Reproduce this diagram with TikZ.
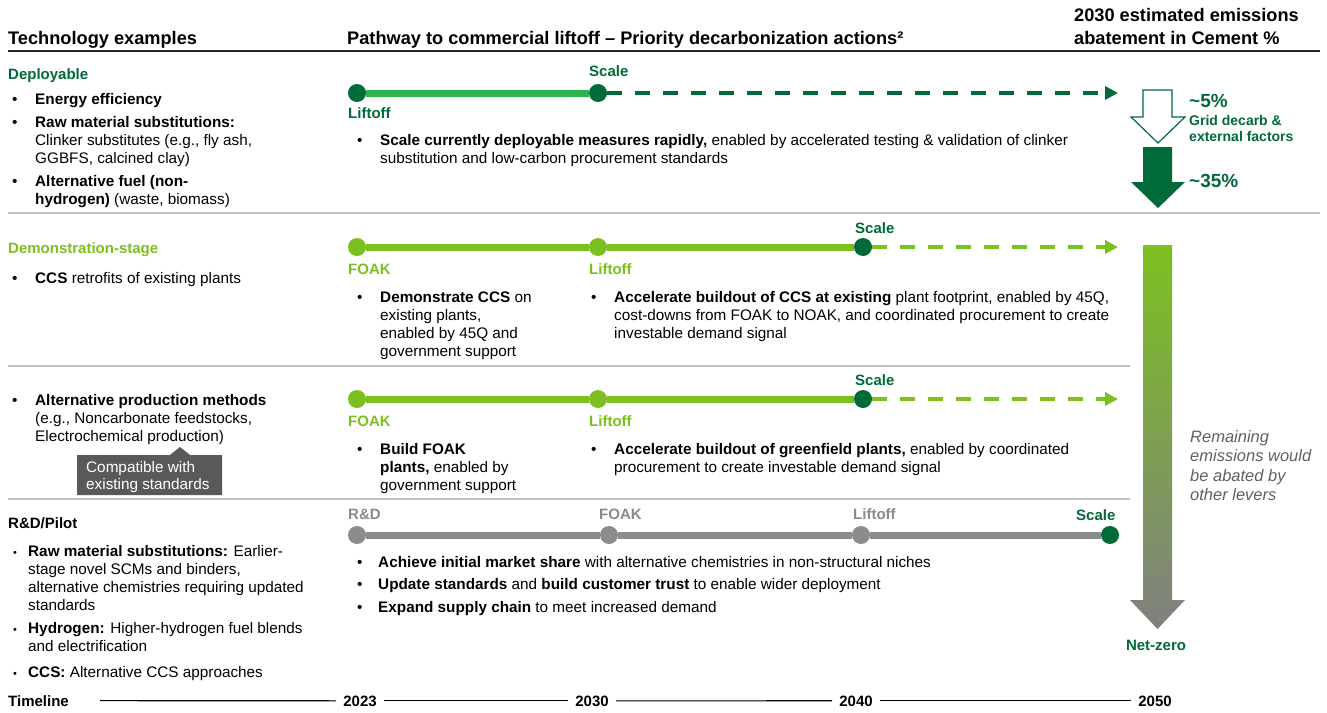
\documentclass[tikz,border=0pt]{standalone}
\usepackage{fontspec}
\setmainfont{Liberation Sans}
\usetikzlibrary{arrows.meta}
\pgfdeclarelayer{bg}
\pgfsetlayers{bg,main}
\definecolor{dkgreen}{RGB}{0,106,56}
\definecolor{midgreen}{RGB}{46,178,77}
\definecolor{ltgreen}{RGB}{124,192,32}
\definecolor{grayline}{RGB}{140,140,140}
\definecolor{graytxt}{RGB}{138,138,138}
\definecolor{calloutfill}{RGB}{89,89,89}
\definecolor{divider}{RGB}{192,192,192}
\definecolor{italgray}{RGB}{96,96,96}
\definecolor{arrowgray}{RGB}{128,128,128}
\begin{document}
\begin{tikzpicture}[x=1pt,y=-1pt,
  tx/.style={anchor=base west, inner sep=0pt, font=\fontsize{15.3}{18}\selectfont, text=black},
  hd/.style={anchor=base west, inner sep=0pt, font=\fontsize{18.2}{21}\selectfont\bfseries, text=black},
  lbl/.style={anchor=base west, inner sep=0pt, font=\fontsize{15}{18}\selectfont\bfseries},
  pct/.style={anchor=base west, inner sep=0pt, font=\fontsize{19}{22}\selectfont\bfseries, text=dkgreen},
  note/.style={anchor=base west, inner sep=0pt, font=\fontsize{14}{16}\selectfont\bfseries, text=dkgreen},
  ital/.style={anchor=base west, inner sep=0pt, font=\fontsize{16.5}{19.5}\selectfont\itshape, text=italgray},
  yr/.style={anchor=base, inner xsep=7pt, inner ysep=0pt, font=\fontsize{15}{18}\selectfont\bfseries},
  dotbase/.style={circle, minimum size=18pt, inner sep=0pt},
  dotD/.style={dotbase, fill=dkgreen},
  dotL/.style={dotbase, fill=ltgreen},
  dotG/.style={dotbase, fill=grayline},
  solidbar/.style={line width=7pt},
  dashbar/.style={line width=4pt, dash pattern=on 15pt off 13pt, -{Triangle[length=13pt,width=13pt]}},
  sepline/.style={divider, line width=1.5pt}
]
\useasboundingbox (0,0) rectangle (1327,712);

% ---------- headers ----------
\node[hd] (h1) at (8,44) {Technology examples};
\node[hd] (h2) at (347,44) {Pathway to commercial liftoff – Priority decarbonization actions²};
\node[hd] (h3a) at (1074,21) {2030 estimated emissions};
\node[hd] (h3b) at (1074,44) {abatement in Cement \%};
\draw[line width=2pt, black!85] (8,51) -- (1320,51);

% ---------- dividers ----------
\draw[sepline] (8,213) -- (1320,213);
\draw[sepline] (8,366) -- (1130,366);
\draw[sepline] (8,499) -- (1130,499);

% ---------- left column: Deployable ----------
\node[lbl, text=dkgreen] (dep) at (8,79) {Deployable};
\node[tx] (b1) at (12,104) {•};
\node[tx] (t1) at (35,104) {\textbf{Energy efficiency}};
\node[tx] (b2) at (12,127) {•};
\node[tx] (t2) at (35,127) {\textbf{Raw material substitutions:}};
\node[tx] (t3) at (35,145) {Clinker substitutes (e.g., fly ash,};
\node[tx] (t4) at (35,163) {GGBFS, calcined clay)};
\node[tx] (b3) at (12,186) {•};
\node[tx] (t5) at (35,186) {\textbf{Alternative fuel (non-}};
\node[tx] (t6) at (35,204) {\textbf{hydrogen)} (waste, biomass)};

% ---------- left column: Demonstration ----------
\node[lbl, text=ltgreen] (demo) at (8,253) {Demonstration-stage};
\node[tx] (b4) at (12,283) {•};
\node[tx] (t7) at (35,283) {\textbf{CCS} retrofits of existing plants};

% ---------- left column: Alternative production ----------
\node[tx] (b5) at (12,405) {•};
\node[tx] (t8) at (35,405) {\textbf{Alternative production methods}};
\node[tx] (t9) at (35,423) {(e.g., Noncarbonate feedstocks,};
\node[tx] (t10) at (35,441) {Electrochemical production)};
\fill[calloutfill] (77,455) -- (170,455) -- (180,447) -- (190,455) -- (222,455) -- (222,495) -- (77,495) -- cycle;
\node[tx, text=white] (c1) at (86,472) {Compatible with};
\node[tx, text=white] (c2) at (86,489) {existing standards};

% ---------- left column: R&D ----------
\node[lbl, text=black] (rd) at (8,528) {R\&D/Pilot};
\node[tx, font=\fontsize{11}{18}\selectfont] (b6) at (13,556) {•};
\node[tx] (t11) at (28,556) {\textbf{Raw material substitutions:} Earlier-};
\node[tx] (t12) at (28,574) {stage novel SCMs and binders,};
\node[tx] (t13) at (28,592) {alternative chemistries requiring updated};
\node[tx] (t14) at (28,610) {standards};
\node[tx, font=\fontsize{11}{18}\selectfont] (b7) at (13,633) {•};
\node[tx] (t15) at (28,633) {\textbf{Hydrogen:} Higher-hydrogen fuel blends};
\node[tx] (t16) at (28,651) {and electrification};
\node[tx, font=\fontsize{11}{18}\selectfont] (b8) at (13,677) {•};
\node[tx] (t17) at (28,677) {\textbf{CCS:} Alternative CCS approaches};

% ---------- Deployable pathway ----------
\node[dotD] (d1) at (357,93) {};
\node[dotD] (d2) at (598,93) {};
\coordinate (d3) at (1118,93);
\begin{pgfonlayer}{bg}
\draw[solidbar, midgreen] (d1) -- (d2);
\draw[dashbar, dkgreen] (d2) -- (d3);
\end{pgfonlayer}
\node[lbl, text=dkgreen] (d2l) at (589,76) {Scale};
\node[lbl, text=dkgreen] (d1l) at (348,118) {Liftoff};
\node[tx] (db1) at (357,145) {•};
\node[tx] (dt1) at (380,145) {\textbf{Scale currently deployable measures rapidly,} enabled by accelerated testing \& validation of clinker};
\node[tx] (dt2) at (380,163) {substitution and low-carbon procurement standards};

% ---------- Demonstration pathway ----------
\node[dotL] (e1) at (357,247) {};
\node[dotL] (e2) at (598,247) {};
\node[dotD] (e3) at (863,247) {};
\coordinate (e4) at (1118,247);
\begin{pgfonlayer}{bg}
\draw[solidbar, ltgreen] (e1) -- (e2);
\draw[solidbar, ltgreen] (e2) -- (e3);
\draw[dashbar, ltgreen] (e3) -- (e4);
\end{pgfonlayer}
\node[lbl, text=dkgreen] (e3l) at (855,233) {Scale};
\node[lbl, text=ltgreen] (e1l) at (348,274) {FOAK};
\node[lbl, text=ltgreen] (e2l) at (589,274) {Liftoff};
\node[tx] (eb1) at (357,302) {•};
\node[tx] (et1) at (380,302) {\textbf{Demonstrate CCS} on};
\node[tx] (et2) at (380,320) {existing plants,};
\node[tx] (et3) at (380,338) {enabled by 45Q and};
\node[tx] (et4) at (380,356) {government support};
\node[tx] (eb2) at (591,302) {•};
\node[tx] (et5) at (614,302) {\textbf{Accelerate buildout of CCS at existing} plant footprint, enabled by 45Q,};
\node[tx] (et6) at (614,320) {cost-downs from FOAK to NOAK, and coordinated procurement to create};
\node[tx] (et7) at (614,338) {investable demand signal};

% ---------- Alternative production pathway ----------
\node[dotL] (a1) at (357,399) {};
\node[dotL] (a2) at (598,399) {};
\node[dotD] (a3) at (863,399) {};
\coordinate (a4) at (1118,399);
\begin{pgfonlayer}{bg}
\draw[solidbar, ltgreen] (a1) -- (a2);
\draw[solidbar, ltgreen] (a2) -- (a3);
\draw[dashbar, ltgreen] (a3) -- (a4);
\end{pgfonlayer}
\node[lbl, text=dkgreen] (a3l) at (855,385) {Scale};
\node[lbl, text=ltgreen] (a1l) at (348,426) {FOAK};
\node[lbl, text=ltgreen] (a2l) at (589,426) {Liftoff};
\node[tx] (ab1) at (357,454) {•};
\node[tx] (at1) at (380,454) {\textbf{Build FOAK}};
\node[tx] (at2) at (380,472) {\textbf{plants,} enabled by};
\node[tx] (at3) at (380,490) {government support};
\node[tx] (ab2) at (591,454) {•};
\node[tx] (at4) at (614,454) {\textbf{Accelerate buildout of greenfield plants,} enabled by coordinated};
\node[tx] (at5) at (614,472) {procurement to create investable demand signal};

% ---------- R&D pathway ----------
\node[dotG] (r1) at (357,535) {};
\node[dotG] (r2) at (609,535) {};
\node[dotG] (r3) at (861,535) {};
\node[dotD] (r4) at (1110,535) {};
\begin{pgfonlayer}{bg}
\draw[solidbar, grayline] (r1) -- (r2);
\draw[solidbar, grayline] (r2) -- (r3);
\draw[solidbar, grayline] (r3) -- (r4);
\end{pgfonlayer}
\node[lbl, text=graytxt] (r1l) at (348,519) {R\&D};
\node[lbl, text=graytxt] (r2l) at (599,519) {FOAK};
\node[lbl, text=graytxt] (r3l) at (853,519) {Liftoff};
\node[lbl, text=dkgreen] (r4l) at (1076,520) {Scale};
\node[tx] (rb1) at (357,567) {•};
\node[tx] (rt1) at (378,567) {\textbf{Achieve initial market share} with alternative chemistries in non-structural niches};
\node[tx] (rb2) at (357,589) {•};
\node[tx] (rt2) at (378,589) {\textbf{Update standards} and \textbf{build customer trust} to enable wider deployment};
\node[tx] (rb3) at (357,612) {•};
\node[tx] (rt3) at (378,612) {\textbf{Expand supply chain} to meet increased demand};

% ---------- right column ----------
\filldraw[fill=white, draw=dkgreen, line width=1.2pt] (1143,90) -- (1172,90) -- (1172,117) -- (1185,117) -- (1158,143) -- (1131,117) -- (1143,117) -- cycle;
\fill[dkgreen] (1143,147) -- (1172,147) -- (1172,182) -- (1185,182) -- (1158,208) -- (1131,182) -- (1143,182) -- cycle;
\node[pct] (p5) at (1189,107) {\textasciitilde 5\%};
\node[note] (g1) at (1189,125) {Grid decarb \&};
\node[note] (g2) at (1189,141) {external factors};
\node[pct] (p35) at (1189,187) {\textasciitilde 35\%};
\shade[top color=ltgreen, bottom color=arrowgray] (1143,245) -- (1172,245) -- (1172,600) -- (1185,600) -- (1157.5,629) -- (1130,600) -- (1143,600) -- cycle;
\node[ital] (i1) at (1190,442) {Remaining};
\node[ital] (i2) at (1190,461) {emissions would};
\node[ital] (i3) at (1190,481) {be abated by};
\node[ital] (i4) at (1190,500) {other levers};
\node[lbl, anchor=base, text=dkgreen] (nz) at (1156,650) {Net-zero};

% ---------- timeline ----------
\node[lbl, text=black] (tl) at (8,706) {Timeline};
\coordinate (tls) at (100,700.6);
\node[yr] (y1) at (360,706) {2023};
\node[yr] (y2) at (592,706) {2030};
\node[yr] (y3) at (856,706) {2040};
\node[yr] (y4) at (1155,706) {2050};
\draw[line width=1.2pt] (tls) -- (y1.west);
\draw[line width=1.2pt] (y1.east) -- (y2.west);
\draw[line width=1.2pt] (y2.east) -- (y3.west);
\draw[line width=1.2pt] (y3.east) -- (y4.west);
\end{tikzpicture}
\end{document}
